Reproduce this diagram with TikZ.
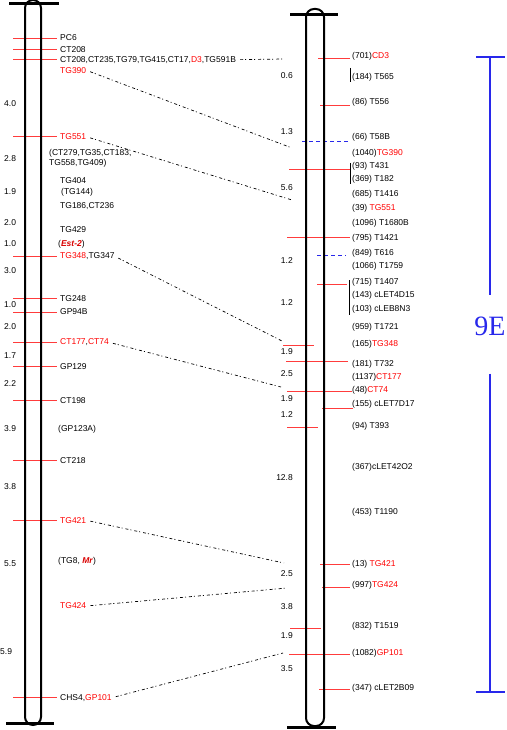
\documentclass[tikz,border=0pt]{standalone}
\usepackage{fontspec}
\setmainfont{Liberation Sans}
\newfontfamily\bigserif{Liberation Serif}
\usepackage{tikz}
\usetikzlibrary{positioning}
\definecolor{mkred}{RGB}{255,60,60}
\definecolor{txred}{RGB}{255,0,0}
\definecolor{bigblue}{RGB}{40,40,235}
\tikzset{
  chrom/.style={draw, line width=2pt, rounded corners=8pt},
  endbar/.style={line width=3pt},
  mkline/.style={draw=mkred, line width=1pt},
  lbl/.style={anchor=west, inner sep=0pt, font=\fontsize{8.5}{9}\selectfont},
  dist/.style={inner sep=0pt, font=\fontsize{8.5}{9}\selectfont},
  link/.style={dash pattern=on 3pt off 2pt on 1pt off 3pt, line width=0.7pt},
  blink/.style={draw=bigblue, dash pattern=on 4pt off 3pt, line width=1pt},
  brk/.style={line width=1pt},
}
\newcommand{\rd}[1]{\textcolor{txred}{#1}}
\newcommand{\gn}[1]{\textcolor{red!85!black}{\textbf{\textit{#1}}}}

\begin{document}
\begin{tikzpicture}[x=1pt, y=-1pt]
  \useasboundingbox (0,0) rectangle (506,730);

  % left map: marker ticks, then the tube
  \foreach \y in {38.5,49.5,59.5,136.5,256.5,298.5,312.5,342.5,366.5,400.5,460.5,520.5,697.5}
    \draw[mkline] (13,\y) -- (57,\y);
  \draw[chrom] (25,0) rectangle (41,725);
  \draw[endbar] (9,3.3) -- (59,3.3);
  \draw[endbar] (6,723) -- (54,723);

  % left labels
  \node[lbl] (pc6) at (60,38) {PC6};
  \node[lbl] (ct208) at (60,49.7) {CT208};
  \node[lbl] (grpa) at (60,59.7) {CT208,CT235,TG79,TG415,CT17,\rd{D3},TG591B};
  \node[lbl] (tg390a) at (60,70.3) {\rd{TG390}};
  \node[lbl] (tg551a) at (60,136.7) {\rd{TG551}};
  \node[lbl] (grpb) at (49,153) {(CT279,TG35,CT183,};
  \node[lbl] (grpc) at (49,163.7) {TG558,TG409)};
  \node[lbl] (tg404) at (60,180.3) {TG404};
  \node[lbl] (tg144) at (61,192.3) {(TG144)};
  \node[lbl] (tg186) at (60,206) {TG186,CT236};
  \node[lbl] (tg429) at (60,230) {TG429};
  \node[lbl] (est2) at (58,244) {(\gn{Est-2})};
  \node[lbl] (tg348a) at (60,256.3) {\rd{TG348},TG347};
  \node[lbl] (tg248) at (60,298.3) {TG248};
  \node[lbl] (gp94b) at (60,312) {GP94B};
  \node[lbl] (ct177a) at (60,342.3) {\rd{CT177},\rd{CT74}};
  \node[lbl] (gp129) at (60,366.7) {GP129};
  \node[lbl] (ct198) at (60,400.3) {CT198};
  \node[lbl] (gp123a) at (58,429) {(GP123A)};
  \node[lbl] (ct218) at (60,460.7) {CT218};
  \node[lbl] (tg421a) at (60,520.3) {\rd{TG421}};
  \node[lbl] (tg8) at (58,561) {(TG8, \gn{Mr})};
  \node[lbl] (tg424a) at (60,606) {\rd{TG424}};
  \node[lbl] (chs4) at (60,697.7) {CHS4,\rd{GP101}};

  % left distances
  \foreach \y/\d [count=\i] in {104/4.0, 159/2.8, 192/1.9, 223/2.0, 244/1.0,
      271/3.0, 305/1.0, 327/2.0, 356/1.7, 384/2.2, 429/3.9, 487/3.8, 564/5.5}
    \node[dist, anchor=west] (ld\i) at (4,\y) {\d};
  \node[dist, anchor=west] (ld14) at (0,652) {5.9};

  % right map: marker ticks, then the tube
  \foreach \a/\b/\y in {318/350/58.5, 320/350/105.5, 289/350/169.5, 287/350/237.5,
      317/347/284.5, 283/314/345.5, 286/348/361.5, 287/352/391.5, 322/353/408.5,
      287/318/427.5, 320/350/564.5, 322/350/587.5, 290/321/628.5, 289/350/654.5, 319/350/689.5}
    \draw[mkline] (\a,\y) -- (\b,\y);
  \draw[blink] (302,141.5) -- (348,141.5);
  \draw[blink] (317,255.5) -- (346,255.5);
  \draw[chrom] (306,9) rectangle (324,726);
  \draw[endbar] (290,14.3) -- (338,14.3);
  \draw[endbar] (287,727.7) -- (336,727.7);

  % brackets
  \draw[brk] (350.5,68) -- (350.5,82);
  \draw[brk] (350.5,163) -- (350.5,184);
  \draw[brk] (349.5,280) -- (349.5,315);

  % right labels
  \node[lbl] (r701) at (352,56.7) {(701)\rd{CD3}};
  \node[lbl] (r184) at (352,77) {(184) T565};
  \node[lbl] (r86) at (352,102.7) {(86) T556};
  \node[lbl] (r66) at (352,137.7) {(66) T58B};
  \node[lbl] (r1040) at (352,153) {(1040)\rd{TG390}};
  \node[lbl] (r93) at (352,166) {(93) T431};
  \node[lbl] (r369) at (352,179) {(369) T182};
  \node[lbl] (r685) at (352,194) {(685) T1416};
  \node[lbl] (r39) at (352,208.3) {(39) \rd{TG551}};
  \node[lbl] (r1096) at (352,223.7) {(1096) T1680B};
  \node[lbl] (r795) at (352,238) {(795) T1421};
  \node[lbl] (r849) at (352,253.3) {(849) T616};
  \node[lbl] (r1066) at (352,266.7) {(1066) T1759};
  \node[lbl] (r715) at (352,282.7) {(715) T1407};
  \node[lbl] (r143) at (352,295) {(143) cLET4D15};
  \node[lbl] (r103) at (352,309.3) {(103) cLEB8N3};
  \node[lbl] (r959) at (352,327.3) {(959) T1721};
  \node[lbl] (r165) at (352,344.3) {(165)\rd{TG348}};
  \node[lbl] (r181) at (352,364) {(181) T732};
  \node[lbl] (r1137) at (352,377.7) {(1137)\rd{CT177}};
  \node[lbl] (r48) at (352,390) {(48)\rd{CT74}};
  \node[lbl] (r155) at (352,404.3) {(155) cLET7D17};
  \node[lbl] (r94) at (352,426.7) {(94) T393};
  \node[lbl] (r367) at (352,467.3) {(367)cLET42O2};
  \node[lbl] (r453) at (352,512) {(453) T1190};
  \node[lbl] (r13) at (352,564) {(13) \rd{TG421}};
  \node[lbl] (r997) at (352,585.3) {(997)\rd{TG424}};
  \node[lbl] (r832) at (352,626) {(832) T1519};
  \node[lbl] (r1082) at (352,653.3) {(1082)\rd{GP101}};
  \node[lbl] (r347) at (352,688.3) {(347) cLET2B09};

  % right distances
  \foreach \y/\d [count=\i] in {76/0.6, 132/1.3, 188/5.6, 261/1.2, 303/1.2, 352/1.9,
      374/2.5, 399/1.9, 415/1.2, 478/12.8, 574/2.5, 607/3.8, 636/1.9, 669/3.5}
    \node[dist, anchor=east] (rd\i) at (293,\y) {\d};

  % links between the maps
  \coordinate (c591) at (284,59);
  \coordinate (c390) at (292,148);
  \coordinate (c551) at (292,200);
  \coordinate (c348) at (282,341);
  \coordinate (c74) at (281,387);
  \coordinate (c421) at (284,563);
  \coordinate (c424) at (287,588);
  \coordinate (c101) at (283,653);
  \draw[link, shorten <=4pt] (grpa.east) -- (c591);
  \foreach \a/\b in {tg390a/c390, tg551a/c551, tg348a/c348, ct177a/c74,
      tg421a/c421, tg424a/c424, chs4/c101}
    \draw[link, shorten <=4pt] (\a.east) -- (\b);

  % 9E bracket
  \node[text=bigblue, inner sep=0pt, font=\bigserif\fontsize{28}{30}\selectfont] (ninee) at (490,326) {9E};
  \coordinate (e9top) at (490,57);
  \coordinate (e9bot) at (490,692);
  \draw[bigblue, line width=2.5pt] (476,57) -- (505,57);
  \draw[bigblue, line width=2.5pt] (476,692) -- (505,692);
  \draw[bigblue, line width=2.5pt] (e9top) -- ([yshift=21pt]ninee.north);
  \draw[bigblue, line width=2.5pt] ([yshift=-38pt]ninee.south) -- (e9bot);
\end{tikzpicture}
\end{document}
